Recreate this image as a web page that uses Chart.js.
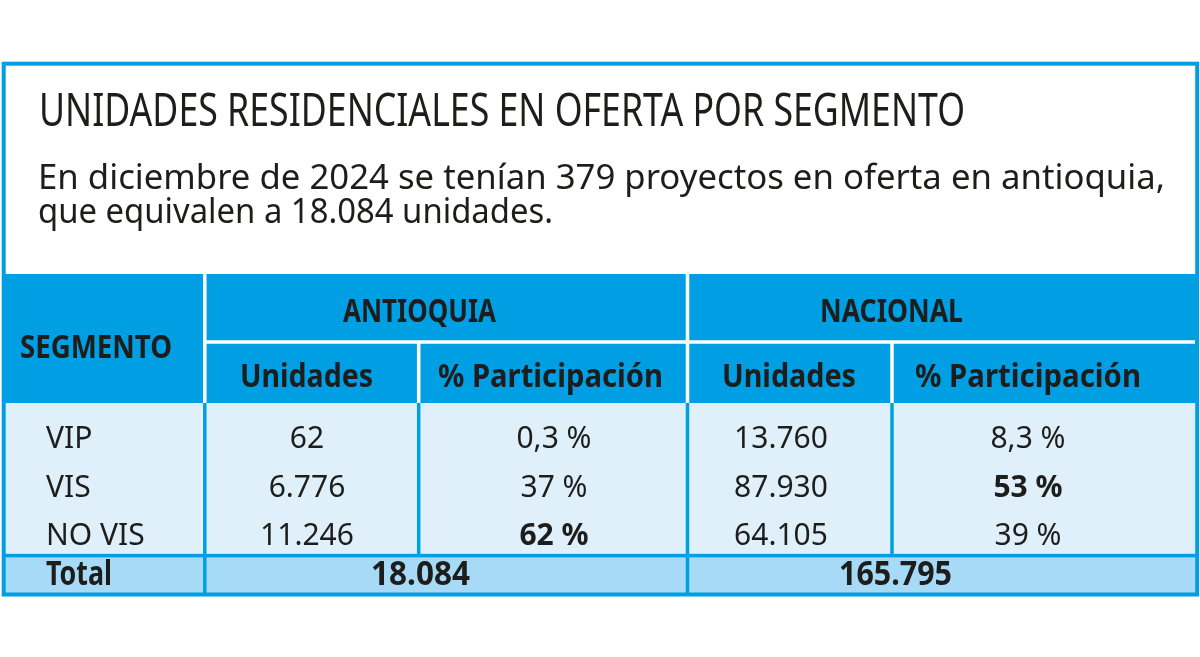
<!DOCTYPE html>
<html><head><meta charset="utf-8">
<script src="https://cdn.jsdelivr.net/npm/chart.js@4.4.1/dist/chart.umd.min.js"></script>
<style>html,body{margin:0;padding:0;background:#fff;}canvas{display:block;}</style>
</head><body>
<canvas id="c" width="1200" height="657"></canvas>
<script>
// ---- data ----
const titleText = 'UNIDADES RESIDENCIALES EN OFERTA POR SEGMENTO';
const subtitleLines = ['En diciembre de 2024 se tenían 379 proyectos en oferta en antioquia,', 'que equivalen a 18.084 unidades.'];
const segmentHeader = 'SEGMENTO';
const regions = ['ANTIOQUIA', 'NACIONAL'];
const subHeaders = ['Unidades', '% Participación'];
const segments = ['VIP', 'VIS', 'NO VIS'];
const antioquiaUnits = [62, 6776, 11246];
const antioquiaShare = [0.3, 37, 62];
const nacionalUnits = [13760, 87930, 64105];
const nacionalShare = [8.3, 53, 39];
const totalLabel = 'Total';
const totals = [18084, 165795];

// ---- formatting ----
function fmtInt(n) { return String(n).replace(/\B(?=(\d{3})+(?!\d))/g, '.'); }
function fmtPct(v) { return String(v).replace('.', ',') + ' %'; }

// ---- layout (scale units) ----
const L = {
  frame: [3.7, 63.7, 1197.2, 594.5], frameW: 4,
  cols: [2, 204.8, 418.7, 687.5, 892, 1199],
  headTop: 274, headMid: 342, headBot: 403, bodyBot: 555.6, totBot: 596,
  lineW: 3.5,
  rowBase: [447.5, 496.5, 545], labelX: 46,
  colCenters: [307, 554, 781, 1028]
};
const C = { blue: '#009fe3', body: '#dff0fb', total: '#a6daf6', white: '#ffffff', ink: '#1d1d1b' };
const FONT = '"Noto Sans", "Open Sans", sans-serif';

const tablePlugin = {
  id: 'tablePlugin',
  afterDraw(chart) {
    const ctx = chart.ctx, sx = chart.scales.x, sy = chart.scales.y;
    const X = v => sx.getPixelForValue(v), Y = v => sy.getPixelForValue(v);
    const rect = (x0, y0, x1, y1, c) => { ctx.fillStyle = c; ctx.fillRect(X(x0), Y(y0), X(x1) - X(x0), Y(y1) - Y(y0)); };
    const vline = (x, y0, y1, c) => rect(x - L.lineW / 2, y0, x + L.lineW / 2, y1, c);
    const hline = (y, x0, x1, c) => rect(x0, y - L.lineW / 2, x1, y + L.lineW / 2, c);
    const text = (s, x, y, font, align, fitW) => {
      ctx.save();
      ctx.font = font; ctx.fillStyle = C.ink; ctx.textBaseline = 'alphabetic';
      ctx.textAlign = align || 'left';
      ctx.translate(X(x), Y(y));
      if (fitW) { const w = ctx.measureText(s).width; ctx.scale(fitW / w, 1); }
      ctx.fillText(s, 0, 0);
      ctx.restore();
    };
    const c = L.cols;
    ctx.save();
    // fills
    rect(c[0], L.headTop, c[5], L.headBot, C.blue);
    rect(c[0], L.headBot, c[5], L.bodyBot, C.body);
    rect(c[0], L.bodyBot, c[5], L.totBot, C.total);
    // header white lines
    vline(c[1], L.headTop, L.headBot, C.white);
    vline(c[3], L.headTop, L.headBot, C.white);
    hline(L.headMid, c[1], c[5] - 4, C.white);
    vline(c[2], L.headMid, L.headBot, C.white);
    vline(c[4], L.headMid, L.headBot, C.white);
    // body blue lines
    [c[1], c[2], c[3], c[4]].forEach(x => vline(x, L.headBot, L.bodyBot, C.blue));
    hline(L.bodyBot, c[0], c[5], C.blue);
    [c[1], c[3]].forEach(x => vline(x, L.bodyBot, L.totBot, C.blue));
    // frame
    ctx.strokeStyle = C.blue; ctx.lineWidth = L.frameW;
    const f = L.frame;
    ctx.strokeRect(X(f[0]), Y(f[1]), X(f[2]) - X(f[0]), Y(f[3]) - Y(f[1]));
    ctx.restore();

    // title & subtitle
    text(titleText, 39, 126, '46px ' + FONT, 'left', 926);
    text(subtitleLines[0], 38, 189, '35px ' + FONT, 'left', 1127);
    text(subtitleLines[1], 38, 223, '35px ' + FONT, 'left', 515);

    // headers
    const hb = 'bold 33px ' + FONT;
    text(segmentHeader, 20, 358, hb, 'left', 152);
    text(regions[0], 343, 322, hb, 'left', 153);
    text(regions[1], 820, 322, hb, 'left', 143);
    text(subHeaders[0], 240, 386.5, hb, 'left', 133);
    text(subHeaders[1], 438, 386.5, hb, 'left', 225);
    text(subHeaders[0], 722, 386.5, hb, 'left', 134);
    text(subHeaders[1], 915, 386.5, hb, 'left', 226);

    // body
    const reg = '30px ' + FONT, bold = 'bold 30px ' + FONT;
    const maxA = Math.max(...antioquiaShare), maxN = Math.max(...nacionalShare);
    segments.forEach((s, i) => {
      const yb = L.rowBase[i];
      text(s, L.labelX, yb, reg, 'left');
      text(fmtInt(antioquiaUnits[i]), L.colCenters[0], yb, reg, 'center');
      text(fmtPct(antioquiaShare[i]), L.colCenters[1], yb, antioquiaShare[i] === maxA ? bold : reg, 'center');
      text(fmtInt(nacionalUnits[i]), L.colCenters[2], yb, reg, 'center');
      text(fmtPct(nacionalShare[i]), L.colCenters[3], yb, nacionalShare[i] === maxN ? bold : reg, 'center');
    });

    // totals
    const tb = 'bold 34px ' + FONT;
    text(totalLabel, 46, 585, tb, 'left', 66);
    text(fmtInt(totals[0]), 371, 585, tb, 'left', 99);
    text(fmtInt(totals[1]), 839, 585, tb, 'left', 113);
  }
};

new Chart(document.getElementById('c'), {
  type: 'scatter',
  data: { datasets: [{ data: [], pointRadius: 0 }] },
  options: {
    responsive: false, animation: false, devicePixelRatio: 1,
    layout: { padding: 0 },
    plugins: { legend: { display: false }, tooltip: { enabled: false } },
    scales: {
      x: { type: 'linear', min: 0, max: 1200, display: false },
      y: { type: 'linear', min: 0, max: 657, reverse: true, display: false }
    }
  },
  plugins: [tablePlugin]
});
</script>
</body></html>
